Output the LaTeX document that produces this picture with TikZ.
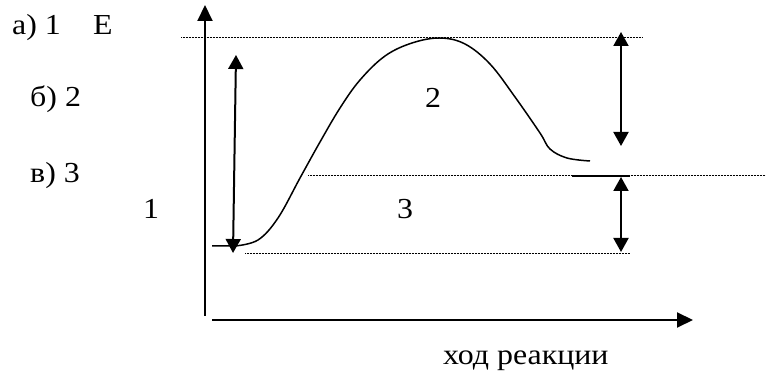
\documentclass[tikz,border=0pt]{standalone}
\usepackage{fontspec}
\setmainfont{Liberation Serif}[FakeStretch=1.1]
\usetikzlibrary{arrows.meta}
\begin{document}
\begin{tikzpicture}[x=1pt,y=-1pt,
  axis/.style={line width=2pt,-{Triangle[length=16pt,width=15pt]}},
  dbl/.style={line width=2pt,{Triangle[length=14pt,width=15pt]}-{Triangle[length=14pt,width=15pt]}},
  level/.style={line width=1pt,dash pattern=on 1pt off 0.5pt},
  curve/.style={line width=1.5pt},
  lbl/.style={anchor=base west,inner sep=0pt,font=\fontsize{29}{34}\selectfont}]
\useasboundingbox (0,0) rectangle (766,371);
% axes
\coordinate (yb) at (205,316); \coordinate (yt) at (205,5);
\draw[axis] (yb) -- (yt);
\coordinate (xl) at (212,320); \coordinate (xr) at (693,320);
\draw[axis] (xl) -- (xr);
% levels
\coordinate (t1) at (181,38); \coordinate (t2) at (643,38);
\draw[level] (t1) -- (t2);
\coordinate (m1) at (308,176); \coordinate (m2) at (766,176);
\draw[level] (m1) -- (m2);
\coordinate (s1) at (572,176); \coordinate (s2) at (630,176);
\draw[curve] (s1) -- (s2);
\coordinate (b1) at (245,254); \coordinate (b2) at (630,254);
\draw[level] (b1) -- (b2);
% energy curve
\coordinate (c0) at (212,246);
\draw[curve] (c0) -- (235,246)
  plot[smooth,tension=0.6] coordinates {(235,246) (258,240) (278,218) (300,178) (320,142) (340,108) (360,80) (385,56) (412,43) (440,38) (465,44) (490,64) (515,97) (540,133) (550,149) (567,158) (590,161)};
% double arrows
\coordinate (l1) at (236,55); \coordinate (l2) at (233,253);
\draw[dbl] (l1) -- (l2);
\coordinate (r1) at (621,32); \coordinate (r2) at (621,146);
\draw[dbl] (r1) -- (r2);
\coordinate (q1) at (621,177); \coordinate (q2) at (621,252);
\draw[dbl] (q1) -- (q2);
% labels
\node[lbl] (la) at (12,35) {а) 1};
\node[lbl] (le) at (93,35) {Е};
\node[lbl] (lb) at (30,107) {б) 2};
\node[lbl] (lv) at (30,183) {в) 3};
\node[lbl] (n1) at (143,219) {1};
\node[lbl] (n2) at (425,108) {2};
\node[lbl] (n3) at (397,219) {3};
\node[lbl] (hx) at (443,365) {ход реакции};
\end{tikzpicture}
\end{document}
